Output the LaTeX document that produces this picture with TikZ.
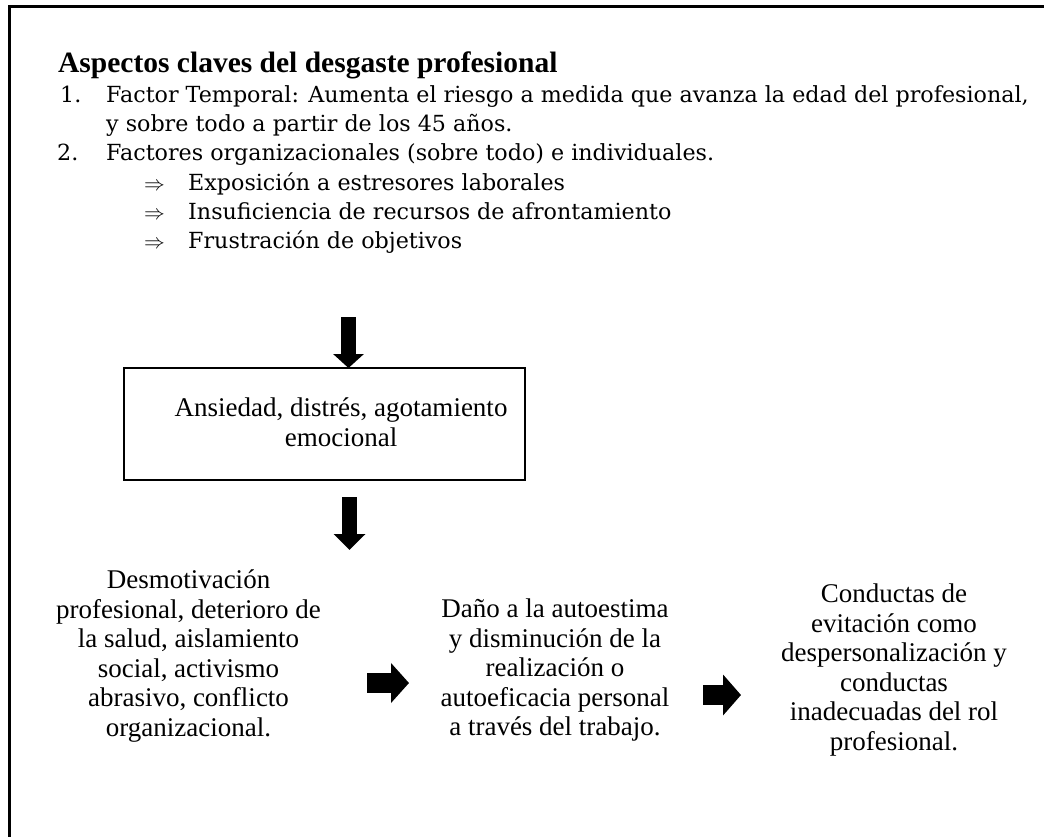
\documentclass[tikz,border=0pt]{standalone}
\usepackage{fontspec}
\setmainfont{Liberation Serif}
\newfontfamily\listfont{DejaVu Serif}
\usetikzlibrary{arrows.meta}
\tikzset{
  body/.style={font=\fontsize{27}{29.5}\selectfont, align=center, inner sep=0pt},
  listtxt/.style={font=\listfont\fontsize{22.2}{26}\selectfont, anchor=base west, inner sep=0pt},
  blockdown/.style={line width=15pt, -{Triangle[width=30pt,length=14pt]}},
  blockright/.style={line width=20pt, -{Triangle[width=39pt,length=18pt]}},
}
\begin{document}
\begin{tikzpicture}[x=1pt,y=-1pt]
\useasboundingbox (0,0) rectangle (1044,836);
% frame
\draw[line width=3pt] (9,860) -- (9,6) -- (1070,6);
% title
\node[anchor=base west, inner sep=0pt, font=\bfseries\fontsize{29.5}{34}\selectfont] (title) at (58,72) {Aspectos claves del desgaste profesional};
% list
\node[listtxt] (n1) at (60,102) {1.};
\node[listtxt] (l1) at (106,102) {Factor Temporal: Aumenta el riesgo a medida que avanza la edad del profesional,};
\node[listtxt] (l1b) at (106,131) {y sobre todo a partir de los 45 años.};
\node[listtxt] (n2) at (57,160) {2.};
\node[listtxt] (l2) at (106,160) {Factores organizacionales (sobre todo) e individuales.};
\node[listtxt] (r1) at (144,190) {$\Rightarrow$};
\node[listtxt] (s1) at (188,190) {Exposición a estresores laborales};
\node[listtxt] (r2) at (144,219) {$\Rightarrow$};
\node[listtxt] (s2) at (188,219) {Insuficiencia de recursos de afrontamiento};
\node[listtxt] (r3) at (144,248) {$\Rightarrow$};
\node[listtxt] (s3) at (188,248) {Frustración de objetivos};
% box
\node[draw, line width=1.8pt, minimum width=401pt, minimum height=112pt, inner sep=0pt] (box) at (324.5,424) {};
\node[body] (boxtxt) at (341,422) {Ansiedad, distrés, agotamiento\\emocional};
% three blocks
\node[body] (left) at (188.5,656) {Desmotivación\\profesional, deterioro de\\la salud, aislamiento\\social, activismo\\abrasivo, conflicto\\organizacional.};
\node[body] (mid) at (555,670) {Daño a la autoestima\\y disminución de la\\realización o\\autoeficacia personal\\a través del trabajo.};
\node[body] (right) at (894,670) {Conductas de\\evitación como\\despersonalización y\\conductas\\inadecuadas del rol\\profesional.};
% arrows
\coordinate (d1a) at (348.5,317);
\coordinate (d1b) at (348.5,368);
\coordinate (d2a) at (349.5,497);
\coordinate (d2b) at (349.5,550);
\coordinate (h1a) at (367,683);
\coordinate (h1b) at (409,683);
\coordinate (h2a) at (703,695);
\coordinate (h2b) at (741,695);
\draw[blockdown] (d1a) -- (d1b);
\draw[blockdown, -{Triangle[width=31pt,length=16pt]}] (d2a) -- (d2b);
\draw[blockright] (h1a) -- (h1b);
\draw[blockright, -{Triangle[width=40pt,length=18pt]}] (h2a) -- (h2b);
\end{tikzpicture}
\end{document}
